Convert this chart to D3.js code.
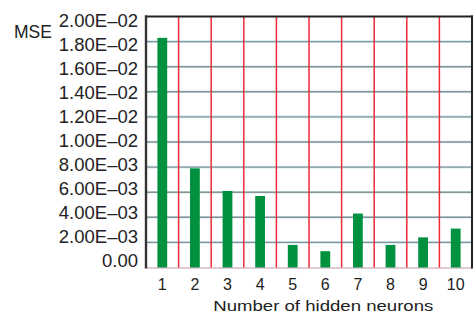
<!DOCTYPE html>
<html><head><meta charset="utf-8">
<script src="https://cdn.jsdelivr.net/npm/d3@7"></script>
<style>html,body{margin:0;padding:0;background:#fff;}svg{display:block;font-family:"Liberation Sans",Arial,sans-serif;}</style>
</head><body><svg id="c" width="473" height="313"></svg>
<script>
const categories = ["1","2","3","4","5","6","7","8","9","10"];
const mse = [0.0183, 0.0079, 0.0061, 0.0057, 0.0018, 0.0013, 0.0043, 0.0018, 0.0024, 0.0031];
const yTickValues = [0, 0.002, 0.004, 0.006, 0.008, 0.010, 0.012, 0.014, 0.016, 0.018, 0.020];
const yTickLabels = ["0.00","2.00E\u201303","4.00E\u201303","6.00E\u201303","8.00E\u201303","1.00E\u201302","1.20E\u201302","1.40E\u201302","1.60E\u201302","1.80E\u201302","2.00E\u201302"];
const yTitle = "MSE";
const xTitle = "Number of hidden neurons";

const svg = d3.select("#c");
const L = 146, R = 472, T = 16.5, B = 267.5;
const x = d3.scaleBand().domain(categories).range([L, R]).padding(0);
const y = d3.scaleLinear().domain([0, 0.02]).range([B, T]);
const yLab = d3.scaleLinear().domain([0, 0.02]).range([261, 20.3]);

// horizontal gridlines
const g = svg.append("g");
g.selectAll("line.gu").data(yTickValues.slice(1, -1)).join("line")
  .attr("x1", L).attr("x2", R).attr("y1", d => y(d)).attr("y2", d => y(d))
  .attr("stroke", "#8fd6ee").attr("stroke-width", 2.6).attr("opacity", 0.45);
g.selectAll("line.g").data(yTickValues.slice(1, -1)).join("line")
  .attr("x1", L).attr("x2", R).attr("y1", d => y(d)).attr("y2", d => y(d))
  .attr("stroke", "#8a9393").attr("stroke-width", 1.4);
// bottom line
svg.append("line").attr("x1", L).attr("x2", R).attr("y1", B + 0.5).attr("y2", B + 0.5)
  .attr("stroke", "#d8b8c8").attr("stroke-width", 1.5);

// vertical red lines at band boundaries
svg.selectAll("line.v").data(categories.slice(1)).join("line")
  .attr("x1", d => x(d)).attr("x2", d => x(d)).attr("y1", T).attr("y2", B)
  .attr("stroke", "#ee2a3a").attr("stroke-width", 1.5);

// bars
const bw = x.bandwidth() * 0.3;
svg.selectAll("rect.bar").data(mse).join("rect")
  .attr("x", (d, i) => x(categories[i]) + x.bandwidth() / 2 - bw / 2)
  .attr("width", bw)
  .attr("y", d => y(d)).attr("height", d => B - y(d))
  .attr("fill", "#00913f");

// frame
svg.append("line").attr("x1", L - 1).attr("x2", R + 1).attr("y1", T).attr("y2", T).attr("stroke", "#222").attr("stroke-width", 2);
svg.append("line").attr("x1", L).attr("x2", L).attr("y1", T - 1).attr("y2", B + 1).attr("stroke", "#333").attr("stroke-width", 2.4);
svg.append("line").attr("x1", R).attr("x2", R).attr("y1", T - 1).attr("y2", B + 1).attr("stroke", "#222").attr("stroke-width", 2);

// y labels
svg.selectAll("text.yl").data(yTickValues).join("text")
  .attr("x", 138).attr("y", d => yLab(d)).attr("dy", "0.35em")
  .attr("text-anchor", "end").attr("font-size", 18.5).attr("fill", "#222")
  .text((d, i) => yTickLabels[i]);
svg.append("text").attr("x", 14).attr("y", 38.3).attr("font-size", 17.5).attr("fill", "#222").text(yTitle);

// x labels
svg.selectAll("text.xl").data(categories).join("text")
  .attr("x", d => x(d) + x.bandwidth() / 2).attr("y", 290)
  .attr("text-anchor", "middle").attr("font-size", 16).attr("fill", "#222")
  .text(d => d);
svg.append("text").attr("x", 213.3).attr("y", 310.7).attr("font-size", 15.5).attr("fill", "#222")
  .attr("textLength", 220).attr("lengthAdjust", "spacingAndGlyphs").text(xTitle);
</script></body></html>
